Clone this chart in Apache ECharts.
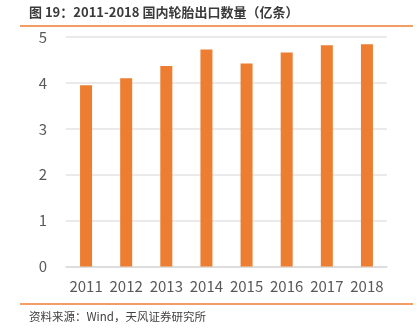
<!DOCTYPE html>
<html>
<head>
<meta charset="utf-8">
<script src="https://cdn.jsdelivr.net/npm/echarts@6/dist/echarts.min.js"></script>
<style>
  html, body { margin: 0; padding: 0; background: #fff; }
  #chart { width: 419px; height: 332px; }
</style>
</head>
<body>
<div id="chart"></div>
<script>
// Tyre exports, 100 million units per year
const years = ['2011', '2012', '2013', '2014', '2015', '2016', '2017', '2018'];
const exports = [3.95, 4.10, 4.37, 4.73, 4.42, 4.66, 4.82, 4.84];
const yTicks = [0, 1, 2, 3, 4, 5];

const titleText = '图 19：2011-2018 国内轮胎出口数量（亿条）';
const sourceText = '资料来源：Wind，天风证券研究所';

const FONT = '"Noto Sans CJK SC", "Noto Sans", sans-serif';
const ORANGE = '#ED7D31';

const chart = echarts.init(document.getElementById('chart'), null, { renderer: 'canvas' });

chart.setOption({
  animation: false,
  backgroundColor: '#fff',
  grid: { left: 66, right: 32, top: 37, bottom: 65.5 },
  xAxis: {
    type: 'category',
    data: years,
    axisLine: { show: true, lineStyle: { color: '#d9d9d9', width: 1.5 } },
    axisTick: { show: false },
    axisLabel: { color: '#595959', fontSize: 15, fontFamily: FONT, margin: 12, interval: 0 }
  },
  yAxis: {
    type: 'value',
    min: yTicks[0],
    max: yTicks[yTicks.length - 1],
    interval: 1,
    axisLine: { show: false },
    axisTick: { show: false },
    axisLabel: { color: '#595959', fontSize: 15, fontFamily: FONT, margin: 19 },
    splitLine: { lineStyle: { color: '#e3e3e3', width: 1.5 } }
  },
  series: [{
    type: 'bar',
    data: exports,
    barWidth: 12,
    itemStyle: { color: ORANGE }
  }],
  graphic: [
    {
      type: 'text', left: 29, top: 6,
      style: { text: titleText, fill: '#3a3a3a', font: 'bold 13px ' + FONT }
    },
    {
      type: 'line', shape: { x1: 20, y1: 26, x2: 413, y2: 26 },
      style: { stroke: ORANGE, lineWidth: 1.5 }
    },
    {
      type: 'line', shape: { x1: 20, y1: 304, x2: 413, y2: 304 },
      style: { stroke: ORANGE, lineWidth: 1.5 }
    },
    {
      type: 'text', left: 29, top: 311,
      style: { text: sourceText, fill: '#404040', font: '11.5px ' + FONT }
    }
  ]
});
</script>
</body>
</html>
